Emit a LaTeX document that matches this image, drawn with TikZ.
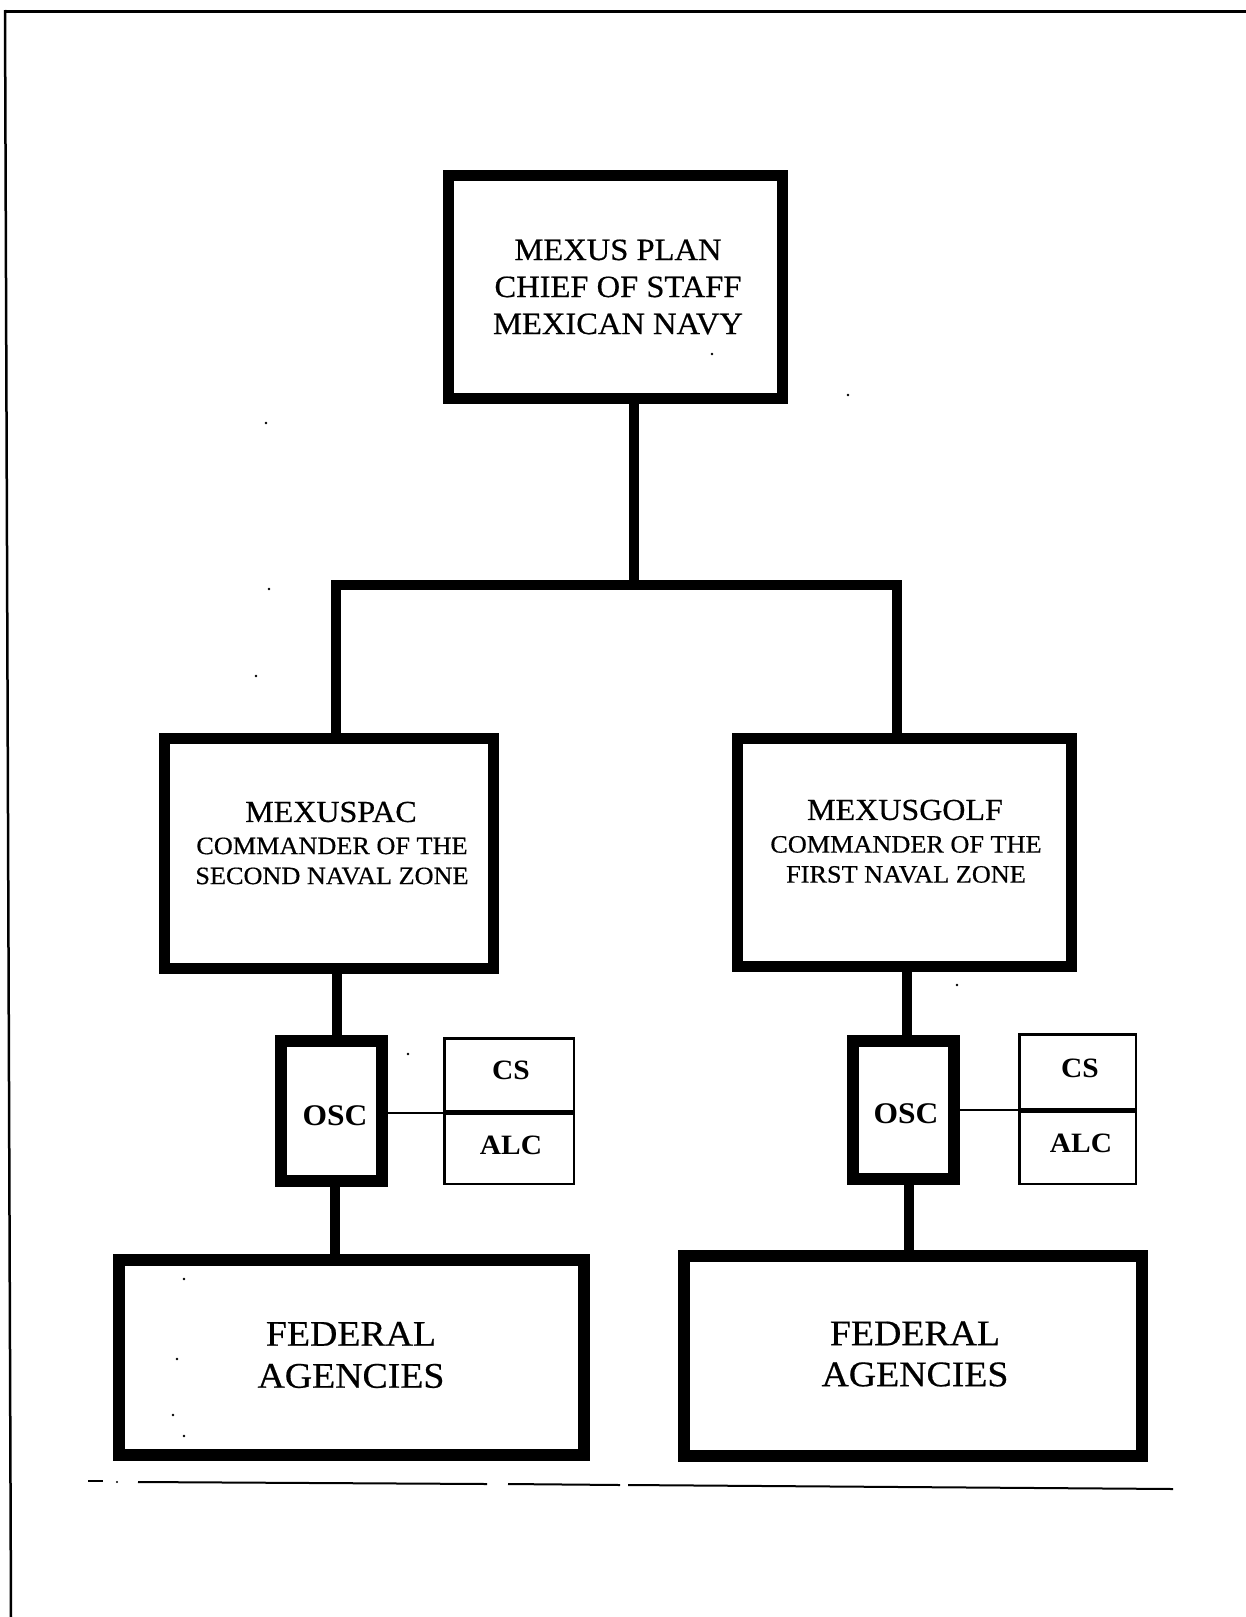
\documentclass[tikz,border=0pt]{standalone}
\usepackage{fontspec}
\setmainfont{Liberation Serif}[FakeStretch=1.05, UprightFeatures={FakeBold=0.5}]
\newcommand{\fsz}[2]{\fontsize{#1}{#2}\selectfont}
\begin{document}
\begin{tikzpicture}[x=1pt,y=-1pt,
  bigbox/.style={draw=black, line width=11pt, fill=white, inner sep=0pt},
  oscbox/.style={draw=black, line width=12pt, fill=white, inner sep=0pt},
  thinbox/.style={draw=black, line width=2.5pt, fill=white, inner sep=0pt},
  conn/.style={draw=black, line width=10pt, line join=miter},
  thinconn/.style={draw=black, line width=2.5pt},
  txt/.style={inner sep=0pt, align=center, text=black},
  rule/.style={draw=black, line width=2pt},
  speck/.style={fill=black}]
\useasboundingbox[fill=white] (0,0) rectangle (1246,1617);
% page frame
\draw[line width=3pt] (4,11) -- (1246,11);
\draw[line width=2.5pt] (5,10) -- (11,1617);
% boxes
\node[bigbox, minimum width=334pt, minimum height=223pt] (top) at (615.5,287) {};
\node[bigbox, minimum width=329pt, minimum height=230pt] (midL) at (329,853.5) {};
\node[bigbox, minimum width=334pt, minimum height=228pt] (midR) at (904.5,852.5) {};
\node[oscbox, minimum width=101pt, minimum height=140pt] (oscL) at (331.5,1111) {};
\node[oscbox, minimum width=101pt, minimum height=138pt] (oscR) at (903.5,1110) {};
\node[thinbox, minimum width=129.5pt, minimum height=72.5pt] (csL) at (509,1074.5) {};
\node[thinbox, minimum width=129.5pt, minimum height=70.5pt] (alcL) at (509,1148.5) {};
\node[thinbox, minimum width=116.5pt, minimum height=74.5pt] (csR) at (1077.5,1071.5) {};
\node[thinbox, minimum width=116.5pt, minimum height=72.5pt] (alcR) at (1077.5,1147.5) {};
\node[bigbox, line width=12pt, minimum width=465pt, minimum height=195pt] (faL) at (351.5,1357) {};
\node[bigbox, line width=12pt, minimum width=458pt, minimum height=200pt] (faR) at (913,1356) {};
% junction coordinates
\coordinate (jT) at (634,585);
\coordinate (jL) at (336,585);
\coordinate (jR) at (897,585);
\coordinate (xL1) at (337,0);
\coordinate (xL2) at (335,0);
\coordinate (xR1) at (907,0);
\coordinate (xR2) at (909,0);
\coordinate (yL) at (0,1113);
\coordinate (yR) at (0,1110);
% connectors
\draw[conn] (top.south -| jT) -- (jT);
\draw[conn] (midL.north -| jL) -- (jL) -- (jR) -- (midR.north -| jR);
\draw[conn] (midL.south -| xL1) -- (oscL.north -| xL1);
\draw[conn] (oscL.south -| xL2) -- (faL.north -| xL2);
\draw[conn] (midR.south -| xR1) -- (oscR.north -| xR1);
\draw[conn] (oscR.south -| xR2) -- (faR.north -| xR2);
\draw[thinconn] (oscL.east |- yL) -- (csL.west |- yL);
\draw[thinconn] (oscR.east |- yR) -- (csR.west |- yR);
% texts
\node[txt, font=\fsz{31}{37}] (topT) at (618,287) {MEXUS PLAN\\CHIEF OF STAFF\\MEXICAN NAVY};
\node[txt, font=\fsz{30.5}{30}] (midLt) at (331,812) {MEXUSPAC};
\node[txt, font=\fsz{25}{30}] (midLs) at (332,861) {COMMANDER OF THE\\SECOND NAVAL ZONE};
\node[txt, font=\fsz{30.5}{30}] (midRt) at (905,810) {MEXUSGOLF};
\node[txt, font=\fsz{25}{30}] (midRs) at (906,859.5) {COMMANDER OF THE\\FIRST NAVAL ZONE};
\node[txt, font=\bfseries\fsz{30}{30}] (oscLt) at (335,1116) {OSC};
\node[txt, font=\bfseries\fsz{30}{30}] (oscRt) at (906,1114) {OSC};
\node[txt, font=\bfseries\fsz{28}{30}] (csLt) at (511,1070) {CS};
\node[txt, font=\bfseries\fsz{28}{30}] (alcLt) at (511,1145) {ALC};
\node[txt, font=\bfseries\fsz{28}{30}] (csRt) at (1080,1068) {CS};
\node[txt, font=\bfseries\fsz{28}{30}] (alcRt) at (1081,1143) {ALC};
\node[txt, font=\fsz{36}{42}] (faLt) at (351,1355) {FEDERAL\\AGENCIES};
\node[txt, font=\fsz{36}{41}] (faRt) at (915,1354) {FEDERAL\\AGENCIES};
% broken rule at the bottom
\draw[rule] (88,1481) -- (103,1481);
\fill (117,1482) circle (1.2pt);
\draw[rule] (138,1482) -- (487,1484);
\draw[rule] (508,1484) -- (620,1485);
\draw[rule] (628,1485) -- (1173,1489);
% scan specks
\foreach \p in {(266,423),(848,395),(269,589),(256,676),(408,1054),(957,985),(712,354),(184,1279),(177,1359),(173,1415),(184,1436)}
  \fill[speck] \p circle (1.3pt);
\end{tikzpicture}
\end{document}
